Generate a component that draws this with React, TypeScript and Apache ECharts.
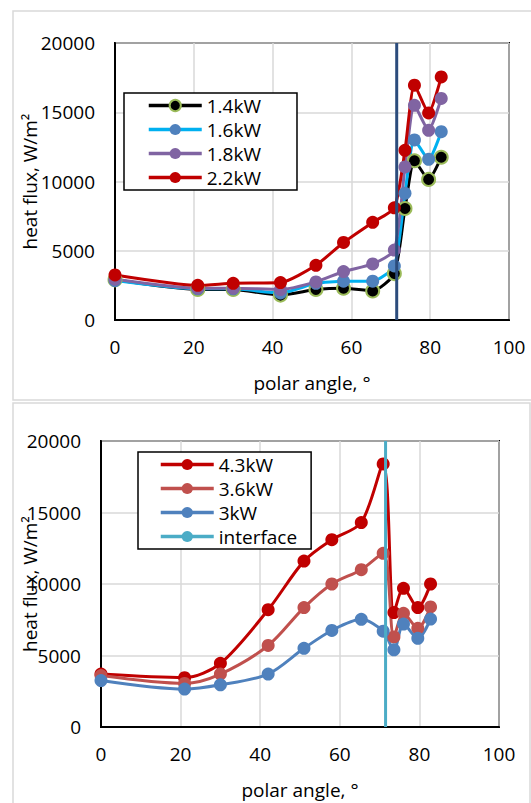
import React, { useEffect, useRef } from "react";
import * as echarts from "echarts";

const angles = [0, 21, 30, 42, 51, 58, 65.4, 70.9, 73.6, 76, 79.6, 82.8];
const interfaceAngle = 71.5;

const topNames = ["1.4kW", "1.6kW", "1.8kW", "2.2kW"];
const p14 = [2900, 2200, 2200, 1800, 2200, 2300, 2100, 3350, 8050, 11500, 10150, 11750];
const p16 = [2850, 2250, 2250, 1950, 2650, 2800, 2800, 3900, 9150, 13000, 11600, 13600];
const p18 = [2950, 2300, 2300, 2200, 2750, 3500, 4050, 5050, 11050, 15500, 13700, 16000];
const p22 = [3250, 2500, 2650, 2700, 3950, 5600, 7050, 8100, 12250, 16950, 14950, 17550];

const bottomNames = ["4.3kW", "3.6kW", "3kW", "interface"];
const p43 = [3700, 3450, 4450, 8200, 11600, 13100, 14300, 18400, 8000, 9700, 8350, 10000];
const p36 = [3600, 3050, 3700, 5700, 8350, 10000, 11000, 12150, 6300, 7950, 6900, 8400];
const p30 = [3250, 2650, 2950, 3700, 5500, 6750, 7530, 6700, 5400, 7200, 6200, 7550];

const xTicks = { min: 0, max: 100, interval: 20 };
const yTicks = { min: 0, max: 20000, interval: 5000 };

const FONT = "'Open Sans', 'Noto Sans', sans-serif";
const FS = 19;

const pairs = (ys: number[]) => angles.map((a, i) => [a, ys[i]]);

export default function App() {
  const ref = useRef<HTMLDivElement>(null);
  useEffect(() => {
    document.body.style.margin = "0";
    const chart = echarts.init(ref.current!, null, { renderer: "svg" });

    const xAxis = (gridIndex: number, nameGap: number) => ({
      type: "value",
      gridIndex,
      ...xTicks,
      axisLine: { show: true, lineStyle: { color: "#000", width: 2 } },
      axisTick: { show: false },
      axisLabel: { fontSize: FS, color: "#000", margin: 17, fontFamily: FONT },
      splitLine: { show: true, lineStyle: { color: "#D9D9D9", width: 1.5 } },
      name: "polar angle, °",
      nameLocation: "middle",
      nameGap,
      nameMoveOverlap: false,
      nameTextStyle: { fontSize: FS, color: "#000", fontFamily: FONT },
    });
    const yAxis = (gridIndex: number, nameGap: number) => ({
      type: "value",
      gridIndex,
      ...yTicks,
      axisLine: { show: true, lineStyle: { color: "#000", width: 2 } },
      axisTick: { show: false },
      axisLabel: {
        fontSize: FS,
        color: "#000",
        margin: 20,
        fontFamily: FONT,
        formatter: (v: number) => String(v),
      },
      splitLine: { show: true, lineStyle: { color: "#D9D9D9", width: 1.5 } },
      name: "heat flux, W/m²",
      nameLocation: "middle",
      nameRotate: 90,
      nameGap,
      nameMoveOverlap: false,
      nameTextStyle: { fontSize: FS, color: "#000", fontFamily: FONT },
    });

    const lineSeries = (
      name: string,
      data: number[],
      idx: number,
      lineColor: string,
      markerColor: string,
      smooth: number,
      border?: string
    ) => ({
      type: "line",
      name,
      xAxisIndex: idx,
      yAxisIndex: idx,
      data: pairs(data),
      smooth,
      symbol: "circle",
      symbolSize: 13,
      lineStyle: { color: lineColor, width: 3 },
      itemStyle: border
        ? { color: markerColor, borderColor: border, borderWidth: 2 }
        : { color: markerColor, borderWidth: 0 },
      emphasis: { disabled: true },
    });

    const legendBase = {
      orient: "vertical",
      itemWidth: 53,
      itemHeight: 14,
      itemGap: 5,
      borderColor: "#000",
      borderWidth: 1.5,
      backgroundColor: "#fff",
      borderRadius: 0,
      selectedMode: false,
      lineStyle: { width: 3.5 },
      textStyle: { fontSize: FS, color: "#000", fontFamily: FONT },
    };

    chart.setOption({
      animation: false,
      graphic: [
        {
          type: "rect",
          shape: { x: 13, y: 11, width: 540, height: 389 },
          style: { fill: "none", stroke: "#D9D9D9", lineWidth: 1.5 },
          silent: true,
        },
        {
          type: "rect",
          shape: { x: 13, y: 403, width: 517, height: 420 },
          style: { fill: "none", stroke: "#D9D9D9", lineWidth: 1.5 },
          silent: true,
        },
      ],
      grid: [
        { left: 115, top: 43, width: 394, height: 277, show: true, borderColor: "#000", borderWidth: 2, backgroundColor: "transparent" },
        { left: 101, top: 441, width: 398, height: 286, show: true, borderColor: "#000", borderWidth: 2, backgroundColor: "transparent" },
      ],
      xAxis: [xAxis(0, 53), xAxis(1, 53)],
      yAxis: [yAxis(0, 76), yAxis(1, 62)],
      legend: [
        { ...legendBase, data: topNames, left: 124, top: 93, padding: [3, 36, 3, 23] },
        { ...legendBase, data: bottomNames, left: 138, top: 452, padding: [3, 14, 3, 21] },
      ],
      series: [
        lineSeries(topNames[0], p14, 0, "#000000", "#000000", 0.2, "#9BBB59"),
        lineSeries(topNames[1], p16, 0, "#00B0F0", "#4F81BD", 0.2),
        lineSeries(topNames[2], p18, 0, "#8064A2", "#8064A2", 0.2),
        lineSeries(topNames[3], p22, 0, "#C00000", "#C00000", 0.2),
        {
          type: "line",
          name: "interfaceTop",
          xAxisIndex: 0,
          yAxisIndex: 0,
          data: [[interfaceAngle, yTicks.min], [interfaceAngle, yTicks.max]],
          symbol: "none",
          lineStyle: { color: "#2C4C7C", width: 3 },
          z: 5,
          emphasis: { disabled: true },
        },
        lineSeries(bottomNames[0], p43, 1, "#C00000", "#C00000", 0.3),
        lineSeries(bottomNames[1], p36, 1, "#C0504D", "#C0504D", 0.3),
        lineSeries(bottomNames[2], p30, 1, "#4F81BD", "#4F81BD", 0.3),
        {
          type: "line",
          name: bottomNames[3],
          xAxisIndex: 1,
          yAxisIndex: 1,
          data: [[interfaceAngle, yTicks.min], [interfaceAngle, yTicks.max]],
          symbol: "none",
          lineStyle: { color: "#4BACC6", width: 3 },
          itemStyle: { color: "#4BACC6" },
          z: 5,
          emphasis: { disabled: true },
        },
      ],
    });
    return () => chart.dispose();
  }, []);
  return (
    <div
      ref={ref}
      style={{ position: "absolute", left: 0, top: 0, width: 531, height: 803, background: "#fff" }}
    />
  );
}
